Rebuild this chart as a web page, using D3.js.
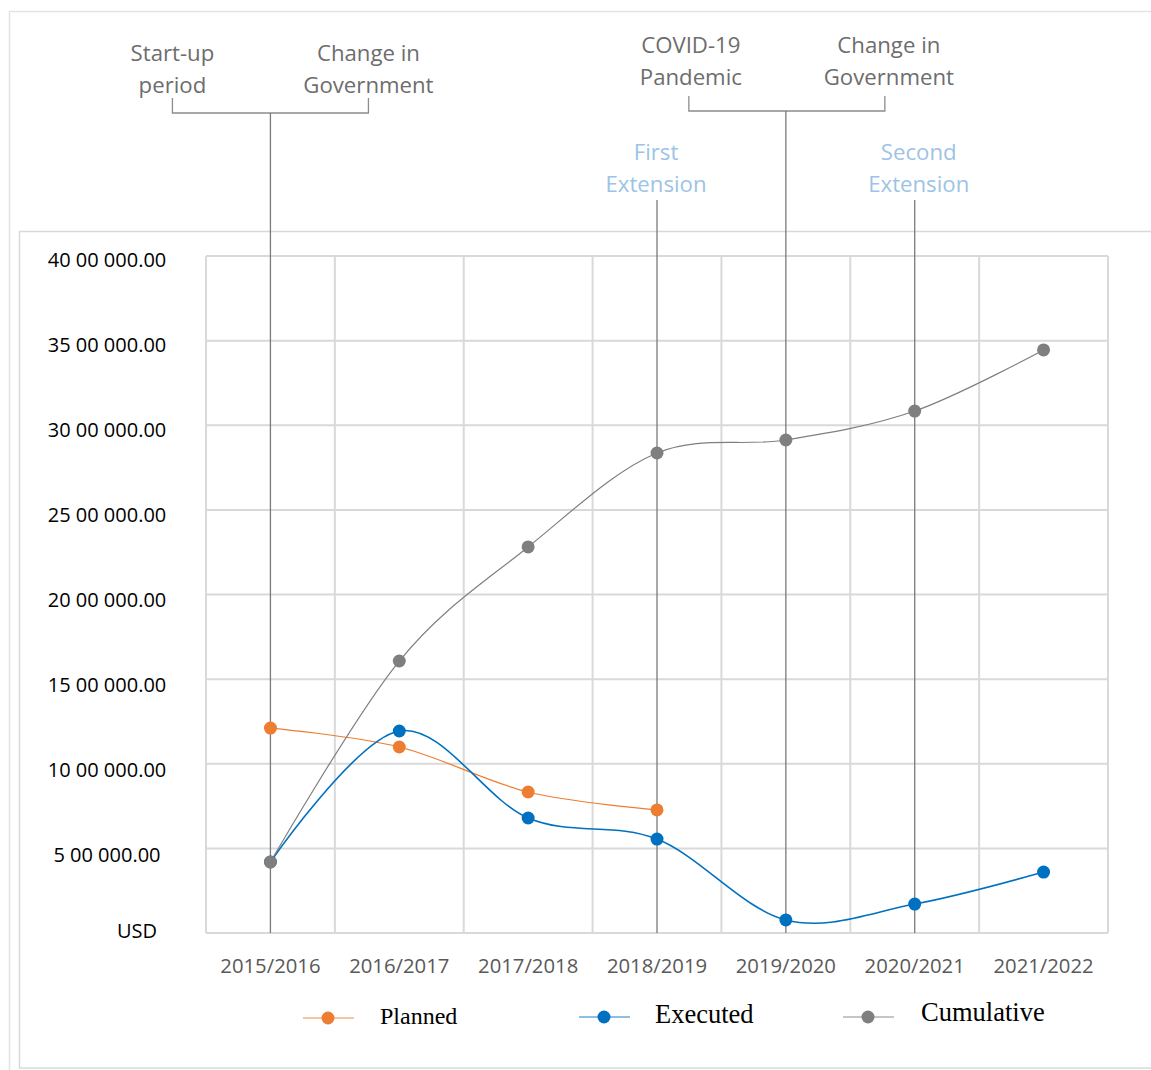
<!DOCTYPE html>
<html><head><meta charset="utf-8">
<script src="https://cdn.jsdelivr.net/npm/d3@7"></script>
<style>body{margin:0;background:#fff}svg{display:block}</style>
</head><body>
<svg id="c" width="1151" height="1070"></svg>
<script>
const categories = ["2015/2016","2016/2017","2017/2018","2018/2019","2019/2020","2020/2021","2021/2022"];
const planned    = [1211000, 1099000, 833000, 727000, null, null, null];
const executed   = [419500, 1193500, 679500, 555000, 77000, 171000, 360000];
const cumulative = [419500, 1607000, 2281000, 2836000, 2913000, 3084000, 3445000];
const yTickValues = [0,500000,1000000,1500000,2000000,2500000,3000000,3500000,4000000];
const yTickLabels = ["USD","5 00 000.00","10 00 000.00","15 00 000.00","20 00 000.00","25 00 000.00","30 00 000.00","35 00 000.00","40 00 000.00"];
const seriesNames = ["Planned","Executed","Cumulative"];
const seriesColors = ["#ED7D31","#0070C0","#7F7F7F"];
const bracketEvents = [
  {labels:[["Start-up","period"],["Change in","Government"]], cat:"2015/2016"},
  {labels:[["COVID-19","Pandemic"],["Change in","Government"]], cat:"2019/2020"}
];
const extensionEvents = [
  {label:["First","Extension"], cat:"2018/2019"},
  {label:["Second","Extension"], cat:"2020/2021"}
];

const svg = d3.select("#c");
const L=206, R=1108, T=256, B=933;
const x = d3.scaleBand().domain(categories).range([L,R]);
const y = d3.scaleLinear().domain([0,4000000]).range([B,T]);
const cx = c => x(c)+x.bandwidth()/2;

// frames
svg.append("rect").attr("x",9.5).attr("y",11.5).attr("width",1160).attr("height",1080)
  .attr("fill","none").attr("stroke","#e3e3e3").attr("stroke-width",1.5);
svg.append("rect").attr("x",19.5).attr("y",231.5).attr("width",1150).attr("height",836.5)
  .attr("fill","#fff").attr("stroke","#d9d9d9").attr("stroke-width",1.5);

// gridlines
const grid = svg.append("g");
grid.selectAll("line.h").data(yTickValues).join("line")
  .attr("x1",L).attr("x2",R).attr("y1",d=>y(d)).attr("y2",d=>y(d))
  .attr("stroke","#d9d9d9").attr("stroke-width",2);
const vb = categories.map(c=>x(c)).concat([R]);
grid.selectAll("line.v").data(vb).join("line")
  .attr("x1",d=>d).attr("x2",d=>d).attr("y1",T).attr("y2",B)
  .attr("stroke","#d9d9d9").attr("stroke-width",2);

// y labels
svg.append("g").selectAll("text").data(yTickValues).join("text")
  .attr("x",(d,i)=> i===0 ? 137 : 107)
  .attr("y",(d,i)=> i===0 ? y(d)-3 : y(d)+3+ (1-d/4000000)*3)
  .attr("text-anchor","middle").attr("dominant-baseline","central")
  .attr("font-family","'Open Sans'").attr("font-size",20).attr("fill","#000")
  .text((d,i)=>yTickLabels[i]);

// x labels
svg.append("g").selectAll("text").data(categories).join("text")
  .attr("x",d=>cx(d)).attr("y",965).attr("text-anchor","middle").attr("dominant-baseline","central")
  .attr("font-family","'Open Sans'").attr("font-size",20.3).attr("fill","#595959")
  .text(d=>d);

// annotations
const ann = svg.append("g");
const annFont = "'Open Sans'";
bracketEvents.forEach((ev,k)=>{
  const xc = cx(ev.cat);
  const top0 = k===0 ? 52 : 44;
  const bl = k===0 ? xc-98 : xc-97, br = k===0 ? xc+98 : xc+99;
  const tl = k===0 ? bl : bl+2, tr = k===0 ? br : br+4;
  const by = k===0 ? 113 : 111;
  [[bl,tl],[br,tr]].forEach(([bx,tx],j)=>{
    ev.labels[j].forEach((t,li)=>{
      ann.append("text").attr("x",tx).attr("y",top0+li*32).attr("text-anchor","middle")
        .attr("dominant-baseline","central").attr("font-family",annFont).attr("font-size",22.2)
        .attr("fill","#6d6d6d").text(t);
    });
  });
  ann.append("path").attr("d",`M${bl},${by-15}V${by}H${br}V${by-15}`)
    .attr("fill","none").attr("stroke","#8c8c8c").attr("stroke-width",1.3);
  ann.append("line").attr("x1",xc).attr("x2",xc).attr("y1",by).attr("y2",B)
    .attr("stroke","#7a7a7a").attr("stroke-width",1.3);
});
extensionEvents.forEach((ev,k)=>{
  const xc = cx(ev.cat);
  ev.label.forEach((t,li)=>{
    ann.append("text").attr("x",k===0 ? xc-1 : xc+4).attr("y",151+li*32).attr("text-anchor","middle")
      .attr("dominant-baseline","central").attr("font-family",annFont).attr("font-size",22.2)
      .attr("fill","#9dc3e6").text(t);
  });
  ann.append("line").attr("x1",xc).attr("x2",xc).attr("y1",200).attr("y2",B)
    .attr("stroke","#7a7a7a").attr("stroke-width",1.3);
});

// series
const allSeries = [planned, executed, cumulative];
const widths = [1.2,1.6,1.2];
const line = d3.line().defined(d=>d.v!=null).x(d=>cx(d.c)).y(d=>y(d.v)).curve(d3.curveCardinal.tension(0));
const sg = svg.append("g");
allSeries.forEach((vals,i)=>{
  const pts = categories.map((c,j)=>({c, v:vals[j]}));
  sg.append("path").datum(pts).attr("d",line).attr("fill","none")
    .attr("stroke",seriesColors[i]).attr("stroke-width",widths[i]);
});
[0,1,2].forEach(i=>{
  const pts = categories.map((c,j)=>({c, v:allSeries[i][j]})).filter(d=>d.v!=null);
  sg.selectAll(null).data(pts).join("circle").attr("cx",d=>cx(d.c)).attr("cy",d=>y(d.v))
    .attr("r",6.5).attr("fill",seriesColors[i]);
});

// legend
const legX = [328, 604, 868];
const legY = [1018, 1017, 1017];
const legTX = [380, 655, 921];
const legTY = [1016, 1014, 1012];
const legFS = [24, 26.5, 26.5];
const lg = svg.append("g");
seriesNames.forEach((n,i)=>{
  lg.append("line").attr("x1",legX[i]-25).attr("x2",legX[i]+26).attr("y1",legY[i]).attr("y2",legY[i])
    .attr("stroke",seriesColors[i]).attr("stroke-opacity",0.6).attr("stroke-width",1.5);
  lg.append("circle").attr("cx",legX[i]).attr("cy",legY[i]).attr("r",6.5).attr("fill",seriesColors[i]);
  lg.append("text").attr("x",legTX[i]).attr("y",legTY[i]).attr("dominant-baseline","central")
    .attr("font-family","'Liberation Serif'").attr("font-size",legFS[i]).attr("fill","#000").text(n);
});
</script>
</body></html>
